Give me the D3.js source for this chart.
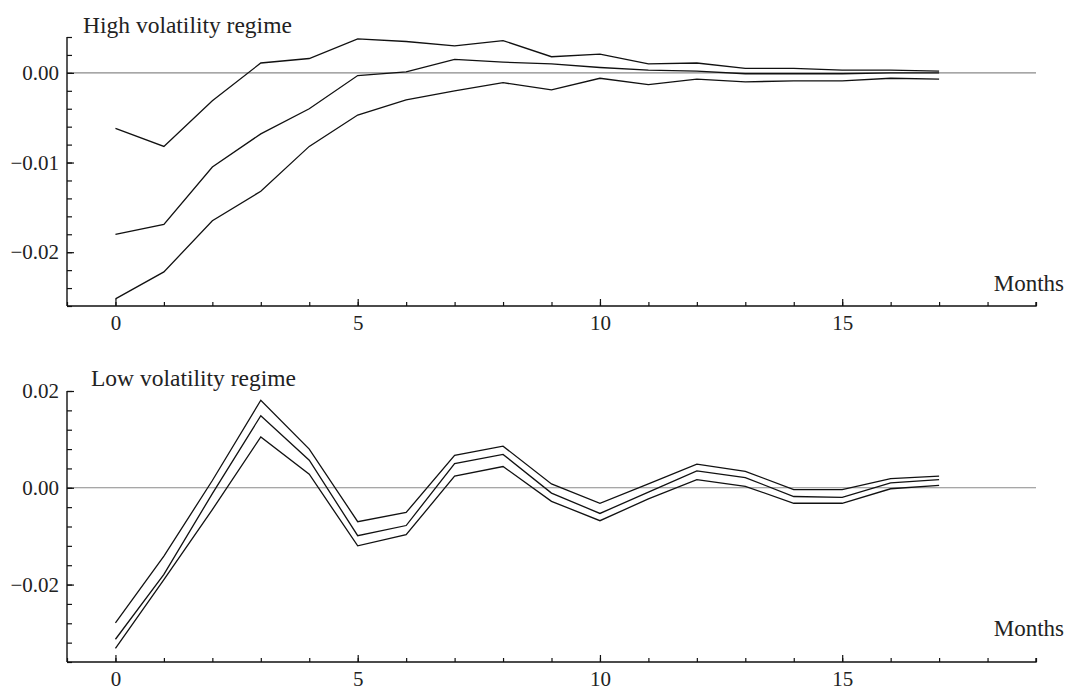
<!DOCTYPE html>
<html>
<head>
<meta charset="utf-8">
<script src="https://cdn.jsdelivr.net/npm/d3@7"></script>
<style>
  html, body { margin: 0; padding: 0; background: #fff; }
  svg { display: block; }
  text { font-family: "Liberation Serif", "Times New Roman", serif; fill: #222; }
</style>
</head>
<body>
<svg id="chart" width="1069" height="690"></svg>
<script>
// Horizon in months
const months = [0,1,2,3,4,5,6,7,8,9,10,11,12,13,14,15,16,17];

// High volatility regime: upper band, point response, lower band
const highUpper = [-0.0062,-0.0082,-0.0031,0.0011,0.0016,0.0038,0.0035,0.0030,0.0036,0.0018,0.0021,0.0010,0.0011,0.0005,0.0005,0.0003,0.0003,0.0002];
const highMid   = [-0.0180,-0.0169,-0.0105,-0.0068,-0.0040,-0.0003,0.0001,0.0015,0.0012,0.0010,0.0006,0.0003,0.0002,-0.0001,-0.0001,-0.0001,0.0000,0.0000];
const highLower = [-0.0252,-0.0222,-0.0165,-0.0132,-0.0082,-0.0047,-0.0030,-0.0020,-0.0011,-0.0019,-0.0006,-0.0013,-0.0007,-0.0010,-0.0009,-0.0009,-0.0006,-0.0007];

// Low volatility regime: upper band, point response, lower band
const lowUpper = [-0.0279,-0.0141,0.0015,0.0181,0.0080,-0.0070,-0.0051,0.0067,0.0086,0.0008,-0.0032,0.0008,0.0049,0.0034,-0.0004,-0.0004,0.0019,0.0024];
const lowMid   = [-0.0313,-0.0179,-0.0012,0.0149,0.0057,-0.0099,-0.0078,0.0050,0.0069,-0.0011,-0.0053,-0.0009,0.0035,0.0021,-0.0018,-0.0020,0.0010,0.0017];
const lowLower = [-0.0332,-0.0190,-0.0045,0.0105,0.0028,-0.0120,-0.0097,0.0024,0.0044,-0.0028,-0.0068,-0.0023,0.0017,0.0003,-0.0032,-0.0032,-0.0002,0.0005];

// Axis ticks
const xMajorTicks = [0,5,10,15];
const xMinorTicks = [-1,0,1,2,3,4,5,6,7,8,9,10,11,12,13,14,15,16,17,18,19];
const highYMajor = [0, -0.01, -0.02];
const highYMinor = [0.004,0.002,0,-0.002,-0.004,-0.006,-0.008,-0.01,-0.012,-0.014,-0.016,-0.018,-0.02,-0.022,-0.024,-0.026];
const lowYMajor = [0.02, 0, -0.02];
const lowYMinor = [0.02,0.016,0.012,0.008,0.004,0,-0.004,-0.008,-0.012,-0.016,-0.02,-0.024,-0.028,-0.032,-0.036];

const panels = [
  { title: "High volatility regime", titleX: 83, titleY: 33,
    top: 37, bottom: 306, yDomain: [-0.026, 0.004],
    yMajor: highYMajor, yMinor: highYMinor, monthsY: 291,
    series: [highUpper, highMid, highLower] },
  { title: "Low volatility regime", titleX: 91, titleY: 386,
    top: 391, bottom: 662, yDomain: [-0.036, 0.02],
    yMajor: lowYMajor, yMinor: lowYMinor, monthsY: 636,
    series: [lowUpper, lowMid, lowLower] }
];

const svg = d3.select("#chart");
const left = 67, right = 1036;
const x = d3.scaleLinear().domain([-1, 19]).range([left, right]);
const fmt = v => (v < 0 ? "\u2212" : "") + d3.format(".2f")(Math.abs(v));

panels.forEach(p => {
  const y = d3.scaleLinear().domain(p.yDomain).range([p.bottom, p.top]);
  const g = svg.append("g");

  // zero reference line
  g.append("line")
    .attr("x1", x(-1)).attr("x2", x(19))
    .attr("y1", y(0)).attr("y2", y(0))
    .attr("stroke", "#8a8a8a").attr("stroke-width", 1.1);

  // x axis: minor then labelled major ticks, pointing inward
  const xMinor = g.append("g").attr("transform", `translate(0,${p.bottom})`)
    .call(d3.axisBottom(x).tickValues(xMinorTicks).tickSize(-4).tickFormat(""));
  const xMajor = g.append("g").attr("transform", `translate(0,${p.bottom})`)
    .call(d3.axisBottom(x).tickValues(xMajorTicks).tickSize(-7).tickPadding(9).tickFormat(d3.format("d")));

  // y axis
  const yMinor = g.append("g").attr("transform", `translate(${left},0)`)
    .call(d3.axisLeft(y).tickValues(p.yMinor).tickSize(-5).tickFormat(""));
  const yMajor = g.append("g").attr("transform", `translate(${left},0)`)
    .call(d3.axisLeft(y).tickValues(p.yMajor).tickSize(-7).tickPadding(8).tickFormat(fmt));

  [xMinor, xMajor, yMinor, yMajor].forEach(a => {
    a.select(".domain").attr("stroke", "#111").attr("stroke-width", 1.4);
    a.selectAll(".tick line").attr("stroke", "#111").attr("stroke-width", 1.2);
    a.selectAll("text").attr("font-family", "Liberation Serif, serif")
      .attr("font-size", 21).attr("fill", "#222");
  });
  xMinor.select(".domain").attr("d", `M${left},0H${right}V-4`);
  yMinor.select(".domain").attr("d", `M0,${p.bottom}V${p.top}`);
  yMajor.select(".domain").remove();
  xMajor.select(".domain").remove();

  // impulse response and bands
  const line = d3.line().x((d, i) => x(months[i])).y(d => y(d));
  p.series.forEach(s => {
    g.append("path").datum(s)
      .attr("d", line)
      .attr("fill", "none")
      .attr("stroke", "#111")
      .attr("stroke-width", 1.3)
      .attr("stroke-linejoin", "miter");
  });

  g.append("text").attr("x", p.titleX).attr("y", p.titleY)
    .attr("font-size", 23.5).text(p.title);
  g.append("text").attr("x", 1064).attr("y", p.monthsY)
    .attr("text-anchor", "end").attr("font-size", 23).text("Months");
});
</script>
</body>
</html>
